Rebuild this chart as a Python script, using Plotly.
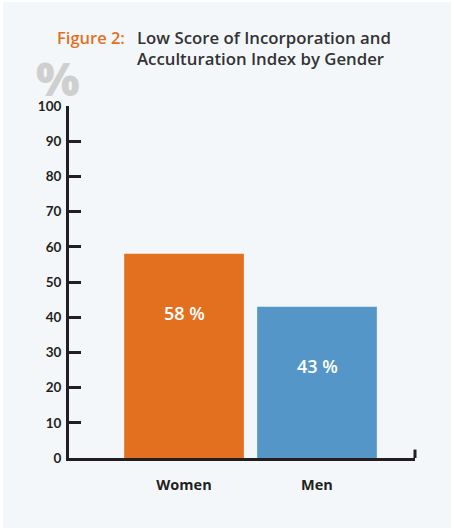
import plotly.graph_objects as go

categories = ["Women", "Men"]
values = [58, 43]
bar_colors = ["#e2701f", "#5596c8"]
value_labels = ["58 %", "43 %"]
y_ticks = [0, 10, 20, 30, 40, 50, 60, 70, 80, 90, 100]

DARK = "#231f20"
FONT = "Open Sans"

fig = go.Figure()
fig.add_trace(go.Bar(
    x=categories, y=values, marker=dict(color=bar_colors, line=dict(width=0)),
    width=0.9, hoverinfo="skip", showlegend=False,
))

for c, v, t in zip(categories, values, value_labels):
    fig.add_annotation(x=c, y=v - 16.8, text=t, showarrow=False,
                       xanchor="center", yanchor="middle",
                       font=dict(family=FONT, size=18, color="white", weight=600))

# title
fig.add_annotation(xref="paper", yref="paper", x=0.1676, y=1.196, xanchor="right", yanchor="middle",
                   text="Figure 2:", showarrow=False,
                   font=dict(family=FONT, size=16.5, color="#e2701f", weight=600))
fig.add_annotation(xref="paper", yref="paper", x=0.1908, y=1.196, xanchor="left", yanchor="middle",
                   text="Low Score of Incorporation and", showarrow=False,
                   font=dict(family=FONT, size=16.8, color="#333333", weight=600))
fig.add_annotation(xref="paper", yref="paper", x=0.1908, y=1.136, xanchor="left", yanchor="middle",
                   text="Acculturation Index by Gender", showarrow=False,
                   font=dict(family=FONT, size=16.8, color="#333333", weight=600))
fig.add_annotation(xref="paper", yref="paper", x=-0.032, y=(458 - 78) / 352,
                   xanchor="center", yanchor="middle", height=38,
                   text="%", showarrow=False,
                   font=dict(family=FONT, size=46, color="#cfcfcf", weight=800))

# background panel
fig.add_shape(type="rect", xref="paper", yref="paper", layer="below",
              x0=(3 - 69) / 346, x1=(451 - 69) / 346,
              y0=(458 - 528) / 352, y1=(458 - 2) / 352,
              fillcolor="#f4f7fa", line=dict(width=0))
# right end tick of x axis
fig.add_shape(type="line", xref="paper", yref="y", x0=1, x1=1, y0=-0.4, y1=2.4,
              line=dict(color=DARK, width=3))

fig.update_layout(
    width=454, height=529,
    margin=dict(l=69, r=39, t=106, b=71),
    paper_bgcolor="white", plot_bgcolor="rgba(0,0,0,0)",
    xaxis=dict(range=[-0.865, 1.737], showline=True, linecolor=DARK, linewidth=3,
               ticks="", showgrid=False, zeroline=False,
               tickfont=dict(family=FONT, size=14.5, color=DARK, weight=700),
               ticklabelstandoff=12),
    yaxis=dict(range=[0, 100], tickvals=y_ticks, showline=True, linecolor=DARK, linewidth=3,
               ticks="inside", ticklen=12, tickwidth=3, tickcolor=DARK,
               showgrid=False, zeroline=False, ticklabelstandoff=2,
               tickfont=dict(family="Lato", size=13.5, color=DARK, weight=700)),
)

fig.write_html("out.html", config={"displayModeBar": False},
               post_script="document.body.style.margin='0';document.body.style.overflow='hidden';")
